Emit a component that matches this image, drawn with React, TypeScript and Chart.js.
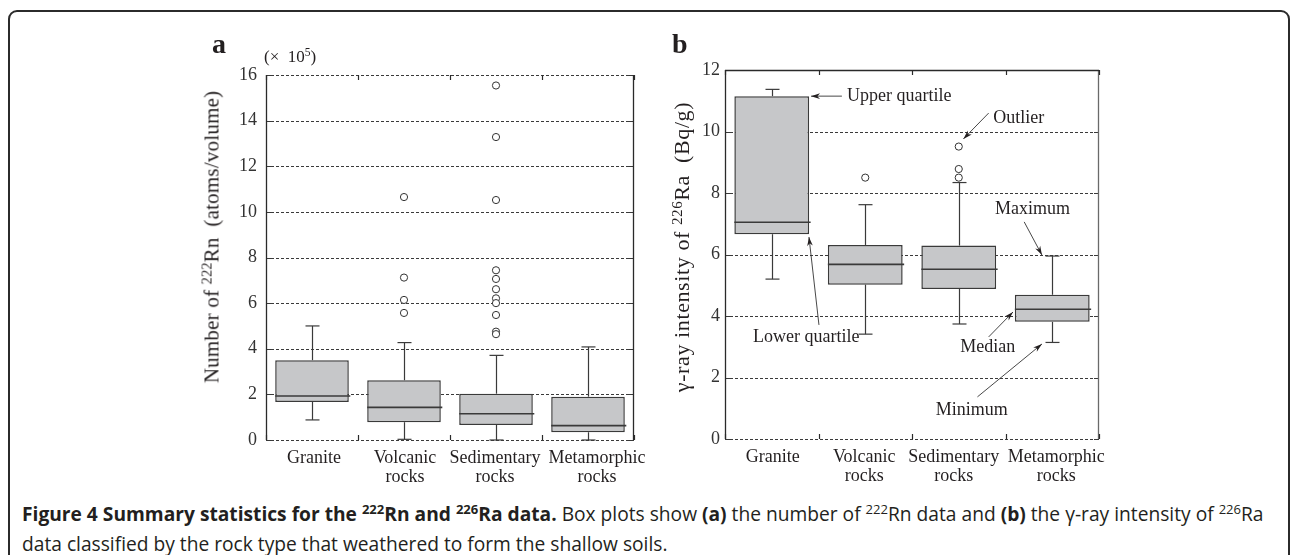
import React, { useEffect, useRef } from 'react';
import { Chart, registerables } from 'chart.js';

Chart.register(...registerables);

// ---------- data ----------
const categories: (string | string[])[] = ['Granite', ['Volcanic', 'rocks'], ['Sedimentary', 'rocks'], ['Metamorphic', 'rocks']];

// Panel a: number of 222Rn (x 10^5 atoms/volume)
const rnMin = [0.88, 0.03, 0.0, 0.0];
const rnQ1 = [1.67, 0.78, 0.66, 0.34];
const rnMedian = [1.93, 1.43, 1.15, 0.63];
const rnQ3 = [3.5, 2.62, 2.03, 1.9];
const rnMax = [5.0, 4.27, 3.71, 4.08];
const rnOutliers = [
  [],
  [10.65, 7.12, 6.14, 5.57],
  [15.54, 13.28, 10.52, 7.44, 7.06, 6.61, 6.21, 6.0, 5.48, 4.75, 4.64],
  [],
];
const rnTicks = [0, 2, 4, 6, 8, 10, 12, 14, 16];

// Panel b: gamma-ray intensity of 226Ra (Bq/g)
const raMin = [5.2, 3.41, 3.74, 3.14];
const raQ1 = [6.66, 5.02, 4.88, 3.81];
const raMedian = [7.05, 5.68, 5.52, 4.22];
const raQ3 = [11.15, 6.31, 6.29, 4.69];
const raMax = [11.37, 7.62, 8.34, 5.95];
const raOutliers = [[], [8.5], [9.51, 8.78, 8.5], []];
const raTicks = [0, 2, 4, 6, 8, 10, 12];

// annotation labels for panel b (text, text anchor, arrow tail, arrow tip) in category-index / value units
type Note = { text: string; at: [number, number]; align: CanvasTextAlign; from: [number, number]; to: [number, number] };
const raNotes: Note[] = [
  { text: 'Upper quartile', at: [0.805, 11.13], align: 'left', from: [0.75, 11.15], to: [0.42, 11.15] },
  { text: 'Outlier', at: [2.37, 10.44], align: 'left', from: [2.32, 10.6], to: [2.05, 9.76] },
  { text: 'Maximum', at: [2.79, 7.48], align: 'center', from: [2.7, 7.06], to: [2.89, 5.98] },
  { text: 'Median', at: [2.31, 2.99], align: 'center', from: [2.32, 3.32], to: [2.58, 4.13] },
  { text: 'Minimum', at: [2.14, 0.94], align: 'center', from: [2.2, 1.37], to: [2.89, 3.09] },
  { text: 'Lower quartile', at: [-0.2, 3.32], align: 'left', from: [0.505, 3.71], to: [0.398, 6.57] },
];

// ---------- styles ----------
const SERIF = '"Liberation Serif", "Times New Roman", serif';
const INK = '#231f20';
const LINE = '#3a3a3a';
const BOX_FILL = '#c6c7c9';

type Stats = { min: number[]; q1: number[]; median: number[]; q3: number[]; max: number[]; outliers: number[][] };

const rnStats: Stats = { min: rnMin, q1: rnQ1, median: rnMedian, q3: rnQ3, max: rnMax, outliers: rnOutliers };
const raStats: Stats = { min: raMin, q1: raQ1, median: raMedian, q3: raQ3, max: raMax, outliers: raOutliers };

function seg(ctx: CanvasRenderingContext2D, x1: number, y1: number, x2: number, y2: number) {
  ctx.beginPath();
  ctx.moveTo(x1, y1);
  ctx.lineTo(x2, y2);
  ctx.stroke();
}

function arrow(ctx: CanvasRenderingContext2D, x1: number, y1: number, x2: number, y2: number) {
  seg(ctx, x1, y1, x2, y2);
  const a = Math.atan2(y2 - y1, x2 - x1);
  const L = 9, W = 2.8;
  const c = Math.cos(a), s = Math.sin(a);
  ctx.beginPath();
  ctx.moveTo(x2, y2);
  ctx.lineTo(x2 - L * c + W * s, y2 - L * s - W * c);
  ctx.lineTo(x2 - L * 0.7 * c, y2 - L * 0.7 * s);
  ctx.lineTo(x2 - L * c - W * s, y2 - L * s + W * c);
  ctx.closePath();
  ctx.fill();
}

const framePlugin = {
  id: 'frame',
  beforeDatasetsDraw(chart: any, _a: any, opts: any) {
    const { ctx, chartArea } = chart;
    const { left, right, top, bottom } = chartArea;
    const ys = chart.scales.y;
    const xs = chart.scales.xo;
    ctx.save();
    ctx.strokeStyle = LINE;
    ctx.lineWidth = 1;
    ctx.setLineDash([3, 2]);
    for (const t of opts.ticks as number[]) {
      if (opts.topSolid && t === opts.ticks[opts.ticks.length - 1]) continue;
      const py = Math.round(ys.getPixelForValue(t)) + 0.5;
      seg(ctx, left, py, right, py);
    }
    ctx.setLineDash([]);
    // short solid tick marks at both edges
    for (const t of opts.ticks as number[]) {
      const py = Math.round(ys.getPixelForValue(t)) + 0.5;
      seg(ctx, left, py, left + 5, py);
      seg(ctx, right - 5, py, right, py);
    }
    // frame lines
    ctx.lineWidth = 1.3;
    ctx.strokeStyle = '#2a2a2a';
    seg(ctx, Math.round(left) + 0.5, top, Math.round(left) + 0.5, bottom);
    ctx.strokeStyle = opts.rightColor;
    seg(ctx, Math.round(right) - 0.5, top, Math.round(right) - 0.5, bottom);
    if (opts.topSolid) {
      ctx.strokeStyle = '#2a2a2a';
      const py = Math.round(top) + 0.5;
      seg(ctx, left, py, right, py);
    }
    // category boundary ticks at top and bottom (inward)
    ctx.strokeStyle = '#2a2a2a';
    ctx.lineWidth = 1.2;
    for (let i = 0; i <= categories.length; i++) {
      const px = Math.round(xs.getPixelForValue(i - 0.5)) + 0.5;
      seg(ctx, px, top, px, top + 5);
      seg(ctx, px, bottom, px, bottom - 5);
    }
    ctx.restore();
  },
  afterDraw(chart: any, _a: any, opts: any) {
    // category labels below the axis, taken from the chart's labels and placed on the category scale
    const { ctx, chartArea } = chart;
    const xs = chart.scales.x;
    const labels = chart.data.labels as (string | string[])[];
    ctx.save();
    ctx.fillStyle = INK;
    ctx.font = `18px ${SERIF}`;
    ctx.textAlign = 'center';
    ctx.textBaseline = 'middle';
    labels.forEach((lab, i) => {
      const lines = Array.isArray(lab) ? lab : [lab];
      const px = xs.getPixelForValue(i) + (opts.nudge ? opts.nudge[i] : 0);
      lines.forEach((ln, k) => {
        ctx.fillText(ln, px, chartArea.bottom + 18.5 + k * 19);
      });
    });
    ctx.restore();
  },
};

const boxPlugin = {
  id: 'boxExtras',
  afterDatasetsDraw(chart: any, _a: any, opts: any) {
    const { ctx } = chart;
    const ys = chart.scales.y;
    const xs = chart.scales.xo;
    const st: Stats = opts.stats;
    const meta = chart.getDatasetMeta(0);
    ctx.save();
    ctx.strokeStyle = LINE;
    meta.data.forEach((bar: any, i: number) => {
      const cx = Math.round(bar.x) + 0.5;
      const half = bar.width / 2;
      // whiskers
      ctx.lineWidth = 1.2;
      const pMax = ys.getPixelForValue(st.max[i]);
      const pMin = ys.getPixelForValue(st.min[i]);
      const pQ3 = ys.getPixelForValue(st.q3[i]);
      const pQ1 = ys.getPixelForValue(st.q1[i]);
      seg(ctx, cx, pQ3, cx, pMax);
      seg(ctx, cx, pQ1, cx, pMin);
      seg(ctx, cx - 7, pMax, cx + 7, pMax);
      seg(ctx, cx - 7, pMin, cx + 7, pMin);
      // median
      ctx.lineWidth = 1.6;
      const pMed = ys.getPixelForValue(st.median[i]);
      seg(ctx, bar.x - half, pMed, bar.x + half + 1.5, pMed);
    });
    // annotations
    const notes: Note[] = opts.notes || [];
    ctx.fillStyle = INK;
    ctx.strokeStyle = '#333';
    ctx.lineWidth = 0.9;
    ctx.font = `18px ${SERIF}`;
    ctx.textBaseline = 'middle';
    for (const n of notes) {
      ctx.textAlign = n.align;
      ctx.fillText(n.text, xs.getPixelForValue(n.at[0]), ys.getPixelForValue(n.at[1]));
      arrow(ctx, xs.getPixelForValue(n.from[0]), ys.getPixelForValue(n.from[1]), xs.getPixelForValue(n.to[0]), ys.getPixelForValue(n.to[1]));
    }
    ctx.restore();
  },
};

type PanelProps = {
  stats: Stats;
  ticks: number[];
  notes?: Note[];
  nudge: number[];
  left: number;
  top: number;
  width: number;
  height: number;
  yWidth: number;
  yPad: number;
  xHeight: number;
  padTop: number;
  padRight: number;
  topSolid: boolean;
  rightColor: string;
};

function BoxPanel(p: PanelProps) {
  const ref = useRef<HTMLCanvasElement>(null);
  useEffect(() => {
    const st = p.stats;
    const chart = new Chart(ref.current as HTMLCanvasElement, {
      type: 'bar',
      data: {
        labels: categories as any,
        datasets: [
          {
            type: 'bar',
            data: st.q1.map((q, i) => [q, st.q3[i]]) as any,
            backgroundColor: BOX_FILL,
            borderColor: LINE,
            borderWidth: 1.5,
            borderSkipped: false,
            grouped: false,
            barPercentage: 0.8,
            categoryPercentage: 1,
            xAxisID: 'x',
            yAxisID: 'y',
          } as any,
          {
            type: 'scatter',
            data: st.outliers.flatMap((arr, i) => arr.map((v) => ({ x: i, y: v }))),
            xAxisID: 'xo',
            yAxisID: 'y',
            pointStyle: 'circle',
            pointRadius: 3.6,
            pointBackgroundColor: '#ffffff',
            pointBorderColor: '#333333',
            pointBorderWidth: 1,
          } as any,
        ],
      },
      options: {
        responsive: false,
        animation: false,
        events: [],
        layout: { padding: { top: p.padTop, right: p.padRight, left: 0, bottom: 0 } },
        plugins: {
          legend: { display: false },
          tooltip: { enabled: false },
          frame: { ticks: p.ticks, topSolid: p.topSolid, rightColor: p.rightColor, nudge: p.nudge },
          boxExtras: { stats: st, notes: p.notes },
        } as any,
        scales: {
          x: {
            type: 'category',
            offset: true,
            grid: { display: false, drawTicks: false },
            border: { display: false },
            ticks: { display: false },
            afterFit: (s: any) => {
              s.height = p.xHeight;
            },
          },
          xo: {
            type: 'linear',
            min: -0.5,
            max: categories.length - 0.5,
            offset: false,
            display: false,
            grid: { offset: false },
          },
          y: {
            type: 'linear',
            min: p.ticks[0],
            max: p.ticks[p.ticks.length - 1],
            grid: { display: false, drawTicks: false },
            border: { display: false },
            ticks: {
              stepSize: 2,
              color: '#333333',
              font: { family: SERIF, size: 18 },
              padding: p.yPad,
            },
            afterFit: (s: any) => {
              s.width = p.yWidth;
            },
          },
        } as any,
      },
      plugins: [framePlugin as any, boxPlugin as any],
    });
    return () => chart.destroy();
  }, []);
  return (
    <canvas
      ref={ref}
      width={p.width}
      height={p.height}
      style={{ position: 'absolute', left: p.left, top: p.top, width: p.width, height: p.height }}
    />
  );
}

const supStyle: React.CSSProperties = { fontSize: '0.68em', position: 'relative', top: '-0.5em', verticalAlign: 'baseline' };

export default function App() {
  return (
    <div
      style={{
        position: 'absolute',
        left: 0,
        top: 0,
        width: 1290,
        height: 555,
        overflow: 'hidden',
        background: '#ffffff',
        fontFamily: SERIF,
        color: INK,
      }}
    >
      <div
        style={{
          position: 'absolute',
          left: 8,
          top: 10,
          width: 1282,
          height: 700,
          border: '2px solid #2b2b2b',
          borderRadius: 9,
          boxSizing: 'border-box',
        }}
      />
      <BoxPanel
        stats={rnStats}
        ticks={rnTicks}
        nudge={[2, 1, -1, 9]}
        left={180}
        top={0}
        width={470}
        height={500}
        yWidth={86}
        yPad={9}
        xHeight={60}
        padTop={75}
        padRight={16}
        topSolid={false}
        rightColor="#2a2a2a"
      />
      <BoxPanel
        stats={raStats}
        ticks={raTicks}
        notes={raNotes}
        nudge={[1, -1, -5, 4]}
        left={640}
        top={0}
        width={470}
        height={500}
        yWidth={85}
        yPad={5}
        xHeight={61}
        padTop={70}
        padRight={11}
        topSolid={true}
        rightColor="#6a6a6a"
      />
      {/* panel letters */}
      <div style={{ position: 'absolute', left: 212, top: 30, fontSize: 28, fontWeight: 'bold', lineHeight: 1 }}>a</div>
      <div style={{ position: 'absolute', left: 672, top: 30, fontSize: 28, fontWeight: 'bold', lineHeight: 1 }}>b</div>
      <div style={{ position: 'absolute', left: 264, top: 48, fontSize: 17, lineHeight: 1, whiteSpace: 'nowrap' }}>
        (×&nbsp; 10<span style={supStyle}>5</span>)
      </div>
      {/* y-axis titles */}
      <div
        style={{
          position: 'absolute',
          left: 212,
          top: 237,
          transform: 'translate(-50%, -50%) rotate(-90deg)',
          whiteSpace: 'nowrap',
          fontSize: 21,
          letterSpacing: 0.2,
          lineHeight: 1,
        }}
      >
        Number of <span style={supStyle}>222</span>Rn&nbsp; (atoms/volume)
      </div>
      <div
        style={{
          position: 'absolute',
          left: 682,
          top: 247,
          transform: 'translate(-50%, -50%) rotate(-90deg)',
          whiteSpace: 'nowrap',
          fontSize: 22,
          letterSpacing: 0.6,
          lineHeight: 1,
        }}
      >
        γ-ray intensity of <span style={supStyle}>226</span>Ra&nbsp; (Bq/g)
      </div>
      {/* caption */}
      <div
        style={{
          position: 'absolute',
          left: 22,
          top: 500,
          fontFamily: '"Open Sans", sans-serif',
          fontSize: 19.2,
          lineHeight: '27px',
          color: INK,
          whiteSpace: 'nowrap',
        }}
      >
        <div>
          <b>
            Figure 4 Summary statistics for the <span style={supStyle}>222</span>Rn and <span style={supStyle}>226</span>Ra data.
          </b>{' '}
          Box plots show <b>(a)</b> the number of <span style={supStyle}>222</span>Rn data and <b>(b)</b> the γ-ray intensity of{' '}
          <span style={supStyle}>226</span>Ra
        </div>
        <div>data classified by the rock type that weathered to form the shallow soils.</div>
      </div>
    </div>
  );
}
